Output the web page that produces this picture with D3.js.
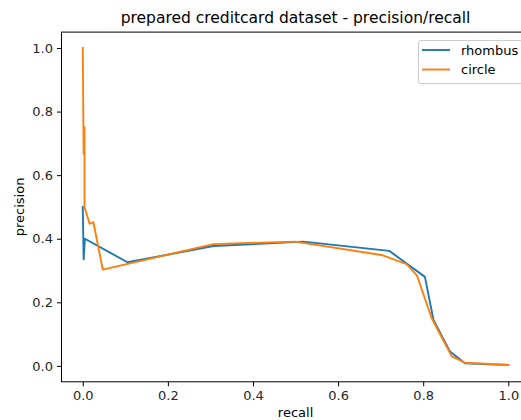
<!DOCTYPE html>
<html>
<head>
<meta charset="utf-8">
<script src="https://cdn.jsdelivr.net/npm/d3@7/dist/d3.min.js"></script>
<style>
  html, body { margin: 0; padding: 0; background: #fff; }
  svg { display: block; font-family: "DejaVu Sans", sans-serif; }
</style>
</head>
<body>
<svg id="chart" width="521" height="420"></svg>
<script>
// Precision/recall curves for the two models
const rhombusRecall    = [0.000, 0.002, 0.005, 0.105, 0.307, 0.518, 0.720, 0.804, 0.824, 0.863, 0.898, 1.000];
const rhombusPrecision = [0.500, 0.335, 0.400, 0.326, 0.377, 0.391, 0.362, 0.280, 0.145, 0.045, 0.008, 0.003];

const circleRecall    = [0.000, 0.002, 0.004, 0.004, 0.016, 0.025, 0.047, 0.307, 0.499, 0.702, 0.761, 0.785, 0.820, 0.867, 0.898, 1.000];
const circlePrecision = [1.000, 0.667, 0.750, 0.500, 0.447, 0.452, 0.303, 0.383, 0.391, 0.349, 0.320, 0.285, 0.150, 0.030, 0.010, 0.003];

const seriesNames = ["rhombus", "circle"];
const xTicks = [0.0, 0.2, 0.4, 0.6, 0.8, 1.0];
const yTicks = [0.0, 0.2, 0.4, 0.6, 0.8, 1.0];

const colors = ["#1f77b4", "#ff7f0e"];

const svg = d3.select("#chart");
const plot = { left: 61.5, right: 529.6, top: 32.1, bottom: 381.8 };

const x = d3.scaleLinear().domain([-0.05, 1.05]).range([plot.left, plot.right]);
const y = d3.scaleLinear().domain([-0.05, 1.05]).range([plot.bottom, plot.top]);

// Axes
const xAxis = d3.axisBottom(x).tickValues(xTicks).tickFormat(d3.format(".1f")).tickSize(4.5).tickPadding(4);
const yAxis = d3.axisLeft(y).tickValues(yTicks).tickFormat(d3.format(".1f")).tickSize(4.5).tickPadding(4);

const gx = svg.append("g").attr("transform", `translate(0,${plot.bottom})`).call(xAxis);
const gy = svg.append("g").attr("transform", `translate(${plot.left},0)`).call(yAxis);
[gx, gy].forEach(g => {
  g.select(".domain").remove();
  g.selectAll(".tick line").attr("stroke", "#000").attr("stroke-width", 1);
  g.selectAll(".tick text").attr("font-size", "13px").attr("fill", "#262626")
    .attr("font-family", "DejaVu Sans, sans-serif");
});

// Spines (left and bottom visible; box continues past the right edge)
const spines = svg.append("g").attr("stroke", "#000").attr("stroke-width", 1).attr("fill", "none");
spines.append("rect")
  .attr("x", plot.left).attr("y", plot.top)
  .attr("width", plot.right - plot.left).attr("height", plot.bottom - plot.top);

// Lines
const line = d3.line().x(d => x(d[0])).y(d => y(d[1]));
const data = [
  d3.zip(rhombusRecall, rhombusPrecision),
  d3.zip(circleRecall, circlePrecision)
];
const clip = svg.append("clipPath").attr("id", "plotclip").append("rect")
  .attr("x", plot.left).attr("y", plot.top)
  .attr("width", plot.right - plot.left).attr("height", plot.bottom - plot.top);
svg.append("g").attr("clip-path", "url(#plotclip)")
  .selectAll("path").data(data).join("path")
  .attr("d", line)
  .attr("fill", "none")
  .attr("stroke", (d, i) => colors[i])
  .attr("stroke-width", 1.9)
  .attr("stroke-linejoin", "round")
  .attr("stroke-linecap", "square");

// Title and axis labels
svg.append("text")
  .attr("x", (plot.left + plot.right) / 2).attr("y", 23)
  .attr("text-anchor", "middle").attr("font-size", "15.5px").attr("fill", "#000")
  .text("prepared creditcard dataset - precision/recall");

svg.append("text")
  .attr("x", (plot.left + plot.right) / 2).attr("y", 417)
  .attr("text-anchor", "middle").attr("font-size", "13px").attr("fill", "#000")
  .text("recall");

svg.append("text")
  .attr("transform", `translate(24,${(plot.top + plot.bottom) / 2}) rotate(-90)`)
  .attr("text-anchor", "middle").attr("font-size", "13px").attr("fill", "#000")
  .text("precision");

// Legend
const legend = svg.append("g");
legend.append("rect")
  .attr("x", 418.5).attr("y", 40.5).attr("width", 104).attr("height", 43)
  .attr("rx", 2.5).attr("fill", "#fff").attr("fill-opacity", 0.8)
  .attr("stroke", "#ccc").attr("stroke-width", 1);
seriesNames.forEach((name, i) => {
  const cy = 50 + i * 19.5;
  legend.append("line")
    .attr("x1", 422).attr("x2", 450).attr("y1", cy).attr("y2", cy)
    .attr("stroke", colors[i]).attr("stroke-width", 1.9);
  legend.append("text")
    .attr("x", 461).attr("y", cy + 4.6)
    .attr("font-size", "13px").attr("fill", "#000")
    .text(name);
});
</script>
</body>
</html>
